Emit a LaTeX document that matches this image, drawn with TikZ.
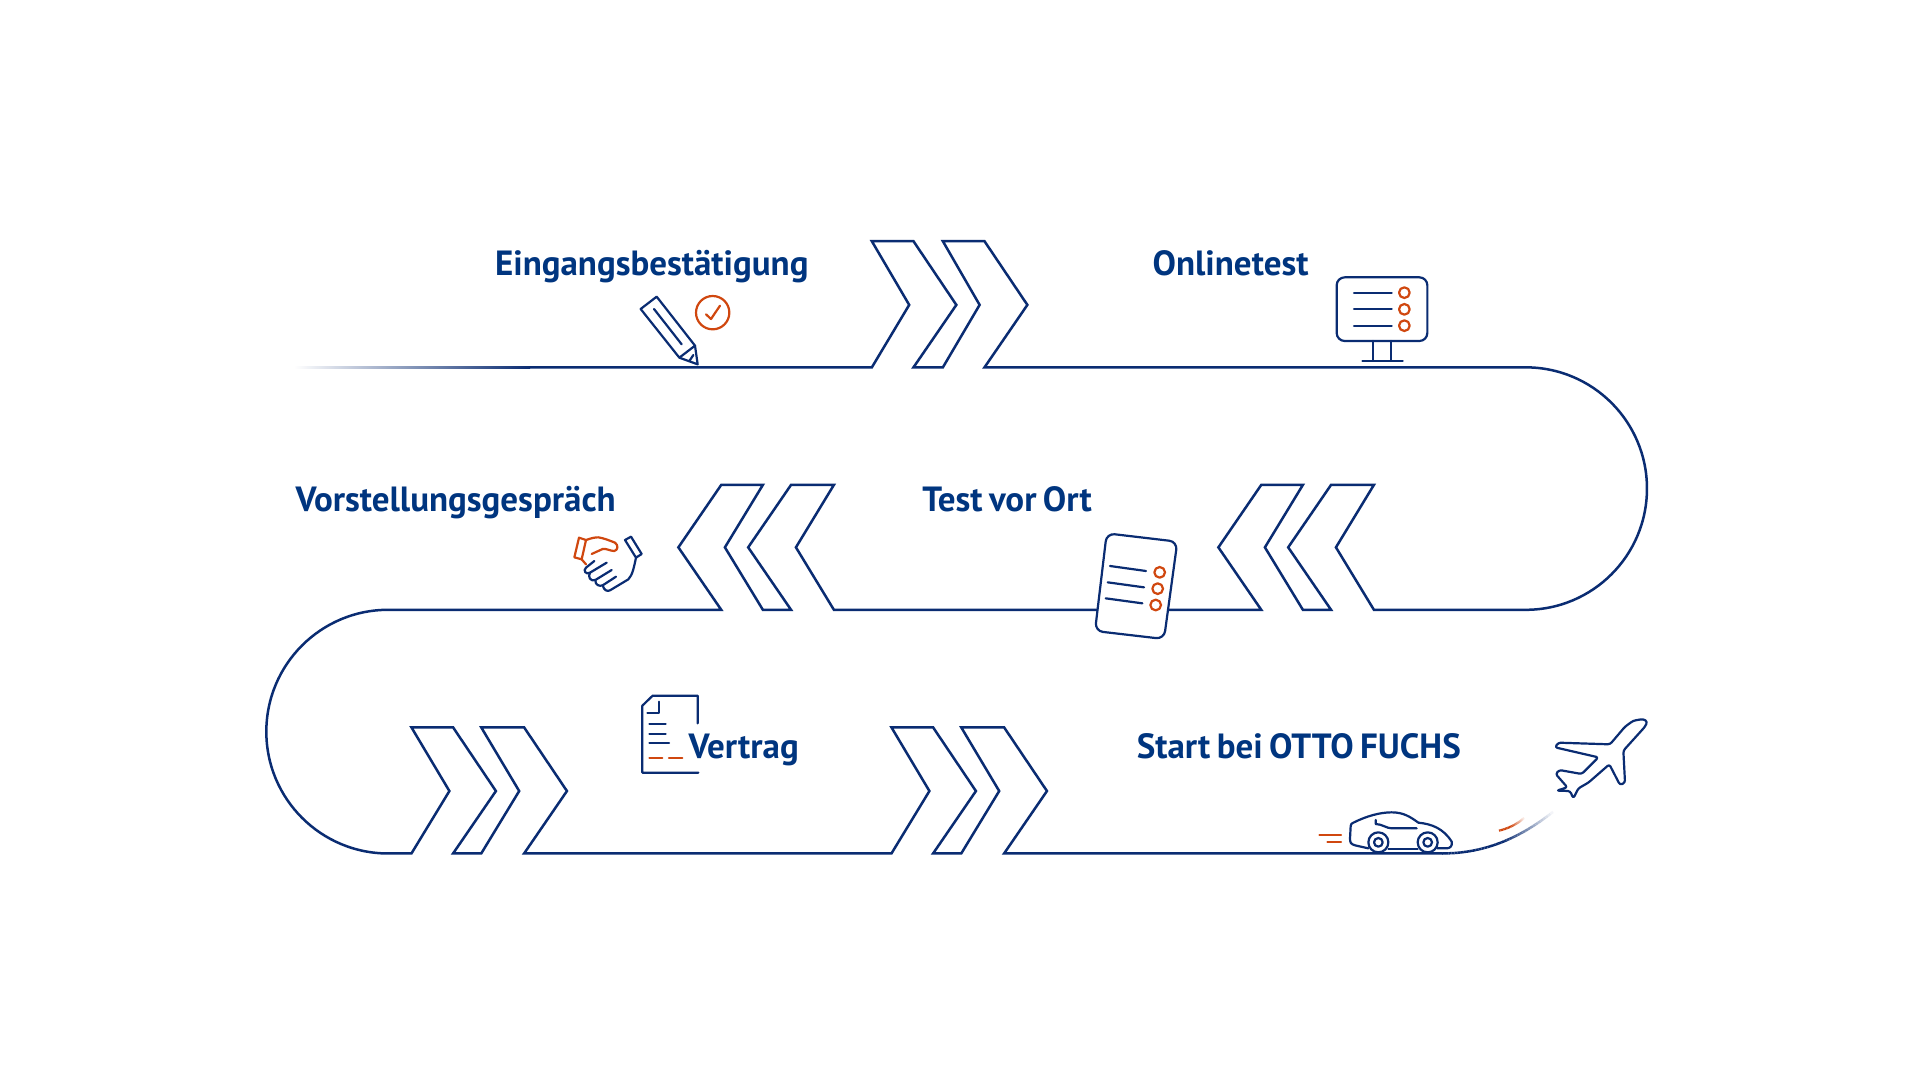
\documentclass[tikz,border=0pt]{standalone}
\usepackage{fontspec}
\setmainfont{PT Sans}
\definecolor{navyl}{HTML}{0A2C72}
\definecolor{navyt}{HTML}{00357F}
\definecolor{orng}{HTML}{D0470F}
\tikzset{
  mainline/.style={draw=navyl,line width=1.25pt,line join=miter},
  ico/.style={draw=navyl,line width=1.1pt,line join=round,line cap=round},
  icoo/.style={draw=orng,line width=1.1pt,line join=round,line cap=round},
  lbl/.style={anchor=base west,inner sep=0pt,text=navyt,font=\fontsize{17.5}{20}\selectfont\bfseries},
}
\begin{document}
\begin{tikzpicture}[x=.5pt,y=-.5pt]
\path[use as bounding box,fill=white] (0,0) rectangle (1920,1080);
% fading start of the line
\shade[left color=white,right color=navyl] (294,366.1) rectangle (530,368.6);
\begin{scope}[scale=1.2245]
\draw[mainline] (432.8,300) -- (712,300) -- (742.5,249) -- (712,197) -- (746,197) -- (781,249) -- (746,300)
 -- (770,300) -- (800,249) -- (770,197) -- (804,197) -- (839,249) -- (804,300) -- (1246,300)
 arc[start angle=-90,end angle=90,radius=99]
 -- (1122,498) -- (1091,447) -- (1122,396) -- (1087,396) -- (1052,447) -- (1087,498) -- (1064,498)
 -- (1033,447) -- (1064,396) -- (1030,396) -- (995,447) -- (1030,498) -- (681,498)
 -- (650,447) -- (681,396) -- (646,396) -- (611,447) -- (646,498) -- (623,498)
 -- (592,447) -- (623,396) -- (589,396) -- (554,447) -- (589,498) -- (317,498)
 arc[start angle=270,end angle=90,radius=99.5]
 -- (336,697) -- (367,646) -- (336,594) -- (370,594) -- (405,646) -- (370,697) -- (393,697)
 -- (424,646) -- (393,594) -- (428,594) -- (463,646) -- (428,697) -- (728,697)
 -- (759,646) -- (728,594) -- (762,594) -- (797,646) -- (762,697) -- (785,697)
 -- (816,646) -- (785,594) -- (820,594) -- (855,646) -- (820,697) -- (1178,697);
\node[lbl] (t1) at (404,224.6) {Eingangsbestätigung};
\node[lbl] (t2) at (941,224.6) {Onlinetest};
\node[lbl] (t3) at (241,417.6) {Vorstellungsgespräch};
\node[lbl] (t4) at (753,417.6) {\spaceskip=3.2pt\relax Test vor Ort};
\node[lbl] (t5) at (562,619.4) {Vertrag};
\node[lbl] (t6) at (928,619.4) {\spaceskip=3.2pt\relax Start bei OTTO FUCHS};
\end{scope}
% end of the line: fading curve
\foreach \i in {0,...,39}{
  \pgfmathsetmacro\ta{\i/40}
  \pgfmathsetmacro\tb{(\i+1)/40}
  \pgfmathsetmacro\pc{\i<20?100:100-(\i-20)*5}
  \draw[draw=navyl!\pc!white,line width=1.25pt]
    plot[domain=\ta:\tb,samples=3,variable=\t]
    ({(1-\t)^3*1442+3*(1-\t)^2*\t*1485+3*(1-\t)*\t^2*1520+\t^3*1553},
     {(1-\t)^3*853.5+3*(1-\t)^2*\t*853.5+3*(1-\t)*\t^2*838+\t^3*812});
}
% orange swoosh
\foreach \i in {0,...,19}{
  \pgfmathsetmacro\ta{\i/20}
  \pgfmathsetmacro\tb{(\i+1)/20}
  \pgfmathsetmacro\pc{\i<8?100:100-(\i-8)*8}
  \draw[draw=orng!\pc!white,line width=1.1pt]
    plot[domain=\ta:\tb,samples=3,variable=\t]
    ({(1-\t)^2*1499+2*(1-\t)*\t*1514+\t^2*1524},
     {(1-\t)^2*830.7+2*(1-\t)*\t*827+\t^2*818});
}
% pencil and check
\begin{scope}[shift={(630,285)},x=.1666667pt,y=-.1666667pt]
\draw[ico] (80,35) -- (32,72) -- (148,218) -- (195,182) -- cycle;
\draw[ico] (195,182) -- (203,238) -- (148,218);
\draw[ico] (72,72) -- (155,178);
\draw[ico] (178,228) -- (190,210);
\draw[icoo] (248,83) circle[radius=50];
\draw[icoo] (228,88) -- (243,102) -- (270,62);
\end{scope}
% monitor
\begin{scope}[shift={(1130,230)},x=.1666667pt,y=-.1666667pt]
\draw[ico,rounded corners=4pt] (620,142) rectangle (892,333);
\foreach \y in {188,238,287}{
  \draw[ico] (672,\y) -- (785,\y);
  \draw[icoo] (823,\y) circle[radius=16];
}
\draw[ico] (730,333) -- (730,392) (783,333) -- (783,392) (697,392) -- (818,392);
\end{scope}
% handshake
\begin{scope}[shift={(560,520)},x=.1666667pt,y=-.1666667pt]
\draw[icoo] (57,53) -- (78,60) -- (65,118) -- (43,112) -- cycle;
\draw[icoo] (78,60) .. controls (95,54) and (105,52) .. (115,52) .. controls (130,54) and (150,62) .. (165,68)
  .. controls (175,75) and (175,90) .. (163,93) .. controls (150,93) and (140,85) .. (128,87) -- (95,102);
\draw[icoo] (65,118) -- (78,133);
\draw[ico] (103,123) -- (78,143) .. controls (68,152) and (78,165) .. (90,158) -- (140,128);
\draw[ico] (90,158) .. controls (82,170) and (92,186) .. (106,180) -- (155,150);
\draw[ico] (106,180) .. controls (105,195) and (118,200) .. (128,196) -- (168,170);
\draw[ico] (128,196) .. controls (132,212) and (142,215) .. (150,211) -- (205,178) .. controls (218,165) and (222,140) .. (228,113);
\draw[ico] (195,60) -- (213,50) -- (245,102) -- (228,113) -- cycle;
\end{scope}
% document on site
\begin{scope}[shift={(1090,525)},x=.1666667pt,y=-.1666667pt]
\draw[ico,fill=white,rounded corners=4pt] (50,25) -- (262,50) -- (222,342) -- (15,318) -- cycle;
\draw[ico] (60,123) -- (168,138) (53,172) -- (162,187) (47,220) -- (157,235);
\draw[icoo] (209,142) circle[radius=16] (203,191) circle[radius=16] (197,240) circle[radius=16];
\end{scope}
% contract
\begin{scope}[shift={(630,690)},x=.1666667pt,y=-.1666667pt]
\draw[ico] (203,100) -- (203,17) -- (68,17) -- (37,47) -- (37,248) -- (205,248);
\draw[ico] (87,35) -- (87,68) -- (52,68);
\draw[ico] (58,103) -- (107,103) (58,132) -- (107,132) (58,160) -- (117,160);
\draw[icoo] (58,203) -- (97,203) (117,203) -- (157,203);
\end{scope}
% car
\begin{scope}[shift={(1310,800)},x=.1666667pt,y=-.1666667pt]
\draw[ico] (175,145) -- (135,136) .. controls (122,132) and (120,128) .. (120,115) -- (122,78)
  .. controls (122,72) and (125,70) .. (130,68) .. controls (170,48) and (210,37) .. (245,37)
  .. controls (280,37) and (300,50) .. (325,68) .. controls (365,72) and (400,85) .. (425,125)
  .. controls (428,138) and (420,145) .. (410,145) -- (382,145);
\draw[ico] (235,146) -- (323,146);
\draw[ico] (197,60) -- (197,72) .. controls (215,72) and (230,85) .. (245,85) -- (320,85);
\draw[ico] (205,127) circle[radius=30] (205,127) circle[radius=13];
\draw[ico] (353,127) circle[radius=30] (353,127) circle[radius=13];
\draw[icoo] (28,105) -- (93,105) (52,125) -- (93,125);
\end{scope}
% plane
\begin{scope}[shift={(1490,710)},x=.1666667pt,y=-.1666667pt]
\draw[ico,rounded corners=1.2pt] (360,103) -- (205,98) -- (195,112) -- (325,142) -- (275,192) -- (208,180)
  -- (197,192) -- (232,232) -- (200,242) -- (240,243) -- (250,265) -- (265,235) -- (295,218) -- (358,163)
  -- (390,225) -- (405,218) -- (400,122) -- (465,50) -- (472,35) -- (460,27) -- (430,32) -- (405,50) -- cycle;
\end{scope}
\end{tikzpicture}
\end{document}
